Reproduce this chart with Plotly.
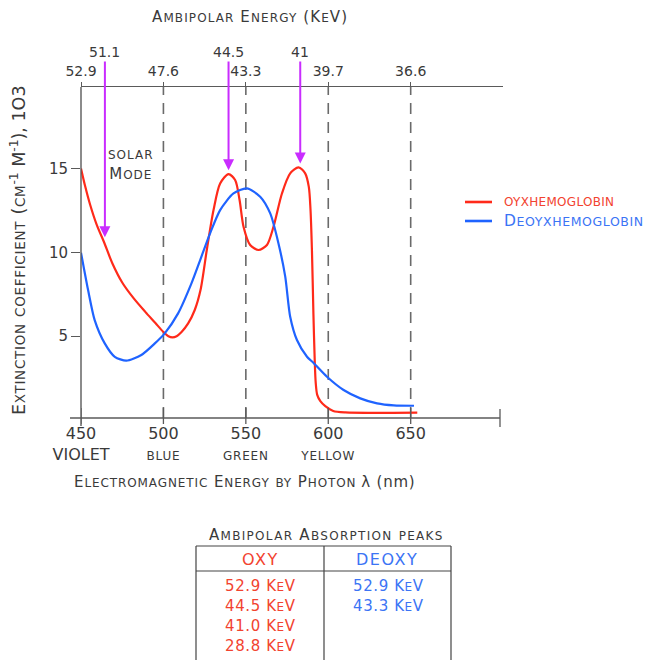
import plotly.graph_objects as go

# ---------------- data ----------------
oxy_nm = [450, 452.5, 455.5, 459.5, 464, 469, 475, 482, 489, 495, 500, 503, 505.5, 508,
          511, 515, 519, 522.5, 526.4, 530.4, 534.4, 539.5, 543.5, 546.2, 548.6, 552.6,
          557.7, 562.8, 566.8, 571.9, 576.9, 582, 586, 588.2, 589.2, 590.1, 591.0, 591.8,
          592.4, 593.3, 595.2, 598.2, 603, 610.3, 654]
oxy_val = [15.0, 13.95, 12.85, 11.65, 10.6, 9.35, 8.2, 7.25, 6.45, 5.8, 5.25, 5.0, 4.93, 5.0,
           5.25, 5.76, 6.56, 7.75, 10.2, 12.52, 14.11, 14.67, 14.31, 13.12, 11.53, 10.44,
           10.14, 10.44, 11.53, 13.51, 14.71, 15.07, 14.71, 13.9, 12.6, 10.1, 6.3, 3.5,
           2.2, 1.5, 1.13, 0.83, 0.54, 0.45, 0.44]

deoxy_nm = [450, 454.3, 458.3, 464.4, 470.5, 477.5, 486.6, 494.8, 500.8, 508.9, 517,
            522.3, 528.3, 534.4, 542.5, 550.6, 558.7, 564.8, 569.8, 573.9, 576.9, 581,
            587.1, 591.1, 599.2, 609.3, 619.4, 629.6, 639.7, 652]
deoxy_val = [9.98, 7.75, 5.96, 4.57, 3.77, 3.54, 3.88, 4.57, 5.17, 6.36, 8.15,
             9.54, 11.13, 12.52, 13.51, 13.81, 13.32, 12.32, 10.53, 8.55, 6.16, 4.77,
             3.77, 3.4, 2.58, 1.79, 1.29, 0.99, 0.87, 0.85]

series_names = ["oyxhemoglobin", "Deoyxhemoglobin"]

x_ticks = [450, 500, 550, 600, 650]
x_tick_top = ["450", "500", "550", "600", "650"]
x_tick_color = ["VIOLET", "blue", "green", "yellow", ""]
kev_ticks = ["52.9", "47.6", "43.3", "39.7", "36.6"]
y_ticks = [5, 10, 15]
dashed_nm = [500, 550, 600, 650]

arrow_nm = [464.5, 539.5, 583.0]
arrow_tip = [10.9, 14.9, 15.3]
arrow_labels = ["51.1", "44.5", "41"]

oxy_peaks = ["52.9 KeV", "44.5 KeV", "41.0 KeV", "28.8 KeV"]
deoxy_peaks = ["52.9 KeV", "43.3 KeV"]

RED = "#ff2a1a"
BLUE = "#1f63ff"
RED_T = "#f2432f"
BLUE_T = "#3b74f5"
MAG = "#c92cff"
TXT = "#3a3a3a"
AX = "#5a5a5a"
FONT = "DejaVu Sans"

L, R, T, B = 81, 503, 87, 418
W, H = 646, 660


def xp(px):
    return (px - L) / (R - L)


def yp(py):
    return (B - py) / (B - T)


def sc(s, small, ls=0.0):
    """small-caps emulation: lowercase letters shown as smaller capitals"""
    out, run = "", ""
    for ch in s:
        if ch.islower():
            run += ch.upper()
        else:
            if run:
                out += f'<span style="font-size:{small}px">{run}</span>'
                run = ""
            out += ch
    if run:
        out += f'<span style="font-size:{small}px">{run}</span>'
    if ls:
        out = f'<span style="letter-spacing:{ls}px">{out}</span>'
    return out


fig = go.Figure()
fig.add_trace(go.Scatter(x=oxy_nm, y=oxy_val, mode="lines", name=series_names[0],
                         line=dict(color=RED, width=2.2, shape="spline", smoothing=0.8),
                         showlegend=False))
fig.add_trace(go.Scatter(x=deoxy_nm, y=deoxy_val, mode="lines", name=series_names[1],
                         line=dict(color=BLUE, width=2.2, shape="spline", smoothing=0.7),
                         showlegend=False))
# invisible trace to anchor the top axis
fig.add_trace(go.Scatter(x=x_ticks, y=[None] * len(x_ticks), xaxis="x2", showlegend=False,
                         hoverinfo="skip"))

shapes = []
for v in dashed_nm:
    shapes.append(dict(type="line", xref="x", yref="paper", x0=v, x1=v, y0=0, y1=1,
                       line=dict(color="#6a6a6a", width=1.6, dash="11px,8px"), layer="below"))
# crossing ticks on the bottom axis
for v in x_ticks:
    shapes.append(dict(type="line", xref="x", yref="paper", x0=v, x1=v,
                       y0=yp(408), y1=yp(424), line=dict(color=AX, width=1.3)))
# axis extensions and end tick
shapes.append(dict(type="line", xref="paper", yref="paper", x0=xp(70), x1=xp(500),
                   y0=0, y1=0, line=dict(color=AX, width=1.4)))
shapes.append(dict(type="line", xref="paper", yref="paper", x0=xp(500), x1=xp(500),
                   y0=yp(409), y1=yp(427), line=dict(color=AX, width=1.3)))
shapes.append(dict(type="line", xref="paper", yref="paper", x0=0, x1=0,
                   y0=yp(426), y1=1, line=dict(color=AX, width=1.4)))

# legend samples
for name_y, col in zip([202, 221], [RED, BLUE]):
    shapes.append(dict(type="line", xref="paper", yref="paper", x0=xp(465), x1=xp(492),
                       y0=yp(name_y), y1=yp(name_y), line=dict(color=col, width=2.6)))

# table lines
for (x0, y0, x1, y1) in [(196, 546, 451, 546), (196, 571, 451, 571),
                          (196, 546, 196, 680), (451, 546, 451, 680), (324, 546, 324, 680)]:
    shapes.append(dict(type="line", xref="paper", yref="paper", x0=xp(x0), x1=xp(x1),
                       y0=yp(y0), y1=yp(y1), line=dict(color="#444", width=1.2)))

ann = []
for nm, tip, lab in zip(arrow_nm, arrow_tip, arrow_labels):
    ann.append(dict(x=nm, y=tip, xref="x", yref="y", ax=nm, ay=21.95, axref="x", ayref="y",
                    text=lab, showarrow=True, arrowhead=2, arrowsize=1.1, arrowwidth=2,
                    arrowcolor=MAG, standoff=0, startstandoff=0,
                    font=dict(family=FONT, size=14, color=TXT)))


def pann(px, py, text, size, color=TXT, xanchor="center", angle=0):
    return dict(x=xp(px), y=yp(py), xref="paper", yref="paper", showarrow=False,
                xanchor=xanchor, yanchor="middle", textangle=angle, text=text,
                font=dict(family=FONT, size=size, color=color))


# legend labels
ann.append(pann(502, 202, sc(series_names[0], 12, 0.3), 15, RED_T, xanchor="left"))
ann.append(pann(502, 221, sc(series_names[1], 12.5, 0.6), 15.5, BLUE_T, xanchor="left"))

ann.append(pann(131, 165, sc("solar", 12, 1) + "<br>" + sc("Mode", 12, 1), 15))
ann.append(pann(250, 17, sc("Ambipolar Energy (KeV)", 12, 1.1), 15))
ann.append(pann(245, 482, sc("Electromagnetic Energy by Photon", 12, 0.9)
                + ' <span style="letter-spacing:0.8px">λ (nm)</span>', 15))
ann.append(pann(18, 250, sc("Extinction coefficient (cm", 13.5, 0.7)
                + "<sup>-1</sup> M<sup>-1</sup>), 1O3", 17.5, angle=-90))

# table texts
ann.append(pann(326, 535, sc("Ambipolar Absorption peaks", 12, 1.3), 15))
ann.append(pann(260, 559, '<span style="letter-spacing:1.5px">OXY</span>', 16, RED_T))
ann.append(pann(387, 559, '<span style="letter-spacing:1.5px">DEOXY</span>', 16, BLUE_T))
row_y = [586, 606, 626, 646]
for i, t in enumerate(oxy_peaks):
    ann.append(pann(223, row_y[i], sc(t, 12, 0.6), 15, RED_T, xanchor="left"))
for i, t in enumerate(deoxy_peaks):
    ann.append(pann(351, row_y[i], sc(t, 12, 0.6), 15, BLUE_T, xanchor="left"))

tick_text = []
for a, b in zip(x_tick_top, x_tick_color):
    if not b:
        tick_text.append(a)
        continue
    lower = b.lower() == b
    tick_text.append(a + "<br>" + (sc(b, 12, 0.8) if lower else b))

fig.update_layout(
    width=W, height=H,
    margin=dict(l=L, r=W - R, t=T, b=H - B, pad=0),
    paper_bgcolor="white", plot_bgcolor="white",
    font=dict(family=FONT, color=TXT),
    showlegend=False,
    xaxis=dict(range=[450, 706], showline=False, showgrid=False, zeroline=False,
               tickmode="array", tickvals=x_ticks, ticktext=tick_text, ticks="",
               ticklabelstandoff=4,
               tickfont=dict(family=FONT, size=16, color=TXT)),
    xaxis2=dict(range=[450, 706], overlaying="x", side="top", showline=True,
                linecolor=AX, linewidth=1.4, showgrid=False, zeroline=False,
                tickmode="array", tickvals=x_ticks, ticktext=kev_ticks, ticks="outside",
                ticklen=4, tickcolor=AX, tickfont=dict(family=FONT, size=14, color=TXT)),
    yaxis=dict(range=[0.12, 19.86], showline=False, showgrid=False, zeroline=False,
               tickmode="array", tickvals=y_ticks, ticks="outside", ticklen=9,
               tickcolor=AX, tickwidth=1.3, tickfont=dict(family=FONT, size=15, color=TXT)),
    shapes=shapes, annotations=ann,
)

fig.write_html("out.html", config={"displayModeBar": False},
               post_script="document.body.style.margin='0px';")
